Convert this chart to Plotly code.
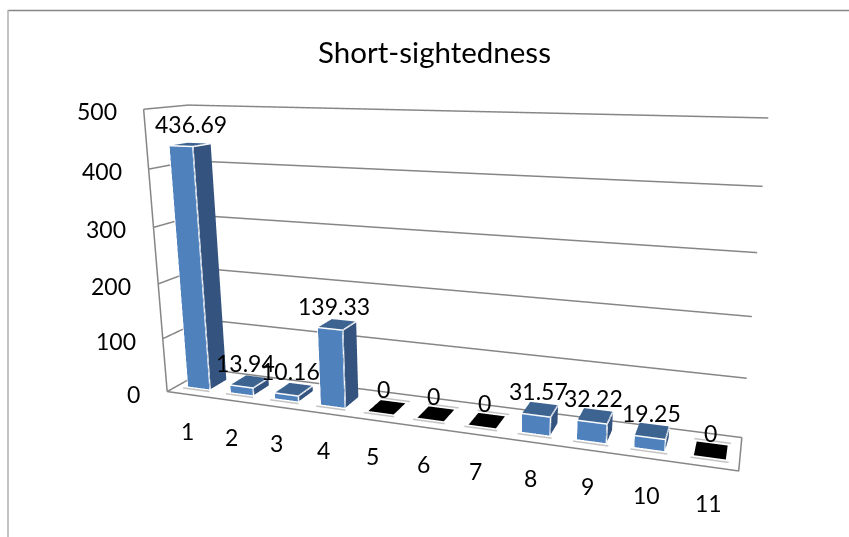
import plotly.graph_objects as go

categories = list(range(1, 12))
values = [436.69, 13.94, 10.16, 139.33, 0, 0, 0, 31.57, 32.22, 19.25, 0]
z_ticks = [0, 100, 200, 300, 400, 500]
title = "Short-sightedness"

W, H = 849, 537
# The scene's field of view is fixed, so the plot is drawn larger than the window and cropped.
FIG_W, FIG_H, TOP_CROP = 916, 754, 97
def paper_x(px): return px / FIG_W
def paper_y(py): return 1 - (py + TOP_CROP) / FIG_H

eye = dict(x=1.009, y=-2.727, z=0.699)
cen = dict(x=0.057, y=0.062, z=-0.046)
up = dict(x=0.0, y=0.011, z=2.22)
asp = dict(x=2.0, y=0.254, z=1.013)

xr = [0.5, 11.5]; yr = [0, 1]; zr = [0, 500]
bar_w = 0.52
y0, y1 = 0.28, 0.70
label_y = 0.38
FRONT, SIDE, TOP = "#4F81BD", "#34547F", "#3D6491"
GREY = "#868686"
fig = go.Figure()
sx, sy, sz = [], [], []
for c, v in zip(categories, values):
    x0, x1 = c - bar_w/2, c + bar_w/2
    vx = [x0,x1,x1,x0,x0,x1,x1,x0]
    vy = [y0,y0,y1,y1,y0,y0,y1,y1]
    vz = [0,0,0,0,v,v,v,v]
    if v > 0:
        i = [0,0,1,1,4,4]; j = [1,5,2,6,5,6]; k = [5,4,6,5,6,7]
        fc = [FRONT,FRONT,SIDE,SIDE,TOP,TOP]
    else:
        i = [4,4]; j = [5,6]; k = [6,7]; fc = ["#000000"]*2
        sx += [x0-.05,x1+.05,None]; sy += [y1+.08,y1+.08,None]; sz += [0,0,None]
    sx += [x0-.05,x1+.05,None]; sy += [y0-.07,y0-.07,None]; sz += [0,0,None]
    fig.add_trace(go.Mesh3d(x=vx,y=vy,z=vz,i=i,j=j,k=k,facecolor=fc,flatshading=True,
        lighting=dict(ambient=1,diffuse=0,specular=0,fresnel=0,roughness=1),hoverinfo="skip",showscale=False))
    if v > 0:
        lx = [x0,x1,x1,None,x1,x1,None,x0,x0,x1,None,x1,x1]
        ly = [y0,y0,y1,None,y0,y0,None,y0,y0,y0,None,y0,y1]
        lz = [v,v,v,None,0,v,None,0,v,v,None,v,v]
        fig.add_trace(go.Scatter3d(x=lx,y=ly,z=lz,mode="lines",line=dict(color="white",width=3),hoverinfo="skip",showlegend=False))
fig.add_trace(go.Scatter3d(x=sx,y=sy,z=sz,mode="lines",line=dict(color="#C4C4C4",width=3),hoverinfo="skip",showlegend=False))

# Wall and floor lines sit a hair inside the axis box: exactly on it the scene clips them.
xa, xb = xr[0] + 0.02, xr[1] - 0.02
ya, yb = yr[0] + 0.004, yr[1] - 0.004
za, zb = zr[0] + 0.5, zr[1] - 0.5
def wall_line(xs, ys, zs):
    fig.add_trace(go.Scatter3d(x=xs,y=ys,z=zs,mode="lines",line=dict(color=GREY,width=3),hoverinfo="skip",showlegend=False))
for t in z_ticks:
    tz = min(max(t, za), zb)
    wall_line([xa, xa, xb], [ya, yb, yb], [tz, tz, tz])
wall_line([xa, xa], [ya, ya], [za, zb])
wall_line([xa, xb, xb], [ya, ya, yb], [za, za, za])

font = dict(family="Lato",size=23,color="black")
ann = [dict(x=c,y=label_y,z=v,text=str(v),showarrow=False,yanchor="middle",
            xshift=6 if v > 400 else 0,yshift=21,font=font) for c,v in zip(categories,values)]
ann += [dict(x=c,y=yr[0],z=0,text=str(c),showarrow=False,yanchor="middle",yshift=-36,font=font) for c in categories]
ann += [dict(x=xr[0],y=yr[0],z=t,text=str(t),showarrow=False,xanchor="right",xshift=-24,yanchor="middle",yshift=-2,font=font) for t in z_ticks]
off = dict(showgrid=False,zeroline=False,showbackground=False,showspikes=False,showline=False,title="",showticklabels=False,ticks="")
fig.update_layout(
    width=FIG_W,height=FIG_H,margin=dict(l=0,r=0,t=0,b=0),paper_bgcolor="white",showlegend=False,
    title=dict(text=title,x=paper_x(434.5),xanchor="center",y=paper_y(53),yanchor="middle",font=dict(family="Lato",size=29.5,color="black")),
    shapes=[dict(type="line",xref="paper",yref="paper",x0=paper_x(8),x1=1,y0=paper_y(10.5),y1=paper_y(10.5),line=dict(color=GREY,width=1.5)),
            dict(type="line",xref="paper",yref="paper",x0=paper_x(8),x1=paper_x(8),y0=0,y1=paper_y(10),line=dict(color="#B0B0B0",width=1.5))],
    scene=dict(domain=dict(x=[0,1],y=[0,1]),aspectmode="manual",aspectratio=asp,
        camera=dict(eye=eye,center=cen,up=up,projection=dict(type="perspective")),
        xaxis=dict(off,range=xr),yaxis=dict(off,range=yr),zaxis=dict(off,range=zr),
        annotations=ann),
)
post = ("var b=document.body.style;b.margin='0';b.width='%dpx';b.height='%dpx';b.overflow='hidden';"
        "document.documentElement.style.overflow='hidden';"
        "document.querySelector('.plotly-graph-div').style.marginTop='-%dpx';") % (W, H, TOP_CROP)
fig.write_html("out.html",config=dict(displayModeBar=False),post_script=post)
